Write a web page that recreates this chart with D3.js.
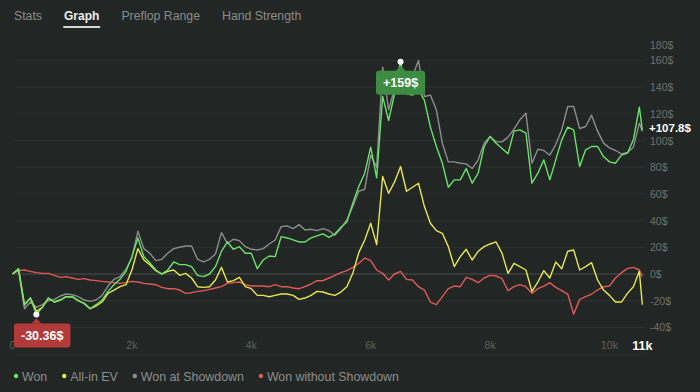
<!DOCTYPE html>
<html>
<head>
<meta charset="utf-8">
<script src="https://cdn.jsdelivr.net/npm/d3@7"></script>
<style>
  html, body { margin: 0; padding: 0; background: #222624; }
  svg { display: block; font-family: "Liberation Sans", Arial, sans-serif; }
</style>
</head>
<body>
<script>
const tabs = ["Stats", "Graph", "Preflop Range", "Hand Strength"];
const activeTab = "Graph";

const hands = [...d3.range(0, 10501, 100), 10550];

const won = [
  0, 4, -23, -18, -30.36, -25, -18, -21, -19.5, -17,
  -17, -20, -22, -26, -23, -19.5, -13, -8, -4, 2,
  13, 27, 13, 8.5, 3, 0, 3, 9, 7, 7,
  5.5, -1, -2, 0, 5.5, 17, 24, 18.5, 20.5, 15.5,
  15.5, 4, 10.5, 13.5, 13, 28, 27, 25.5, 24, 24,
  27, 28.5, 30, 27.5, 30, 35, 39, 53, 65.5, 75.5,
  95, 72, 133, 115, 135, 159, 135, 134, 138, 130,
  110, 95.5, 83, 65, 70.5, 70.5, 79, 68, 75.5, 95.5,
  103, 98, 94, 90, 107, 108, 105.5, 68, 75.5, 85.5,
  70.5, 85.5, 100.5, 110, 108, 80.5, 93, 95.5, 95.5, 88,
  84, 83, 89, 90.5, 100.5, 125, 107.8
];

const allinEV = [
  0, 4, -23, -18, -28, -25, -18, -21, -19.5, -17,
  -17, -20, -22, -26, -24, -21, -14.5, -12, -9.5, -8,
  3, 19, 10.5, 7, 2.5, 0, 2, 3, -1, 0.5,
  -3, -9.5, -10, -9.5, -4.5, 5, -6, -5, -2.5, -9.5,
  -11, -16, -16, -17, -16, -15, -15, -16, -19, -18,
  -16, -13, -13.5, -15, -16, -13.5, -9.5, 0.5, 16, 25.5,
  38, 22, 73, 60.5, 69, 80.5, 62, 65, 68, 50.5,
  38, 32.5, 30.5, 20.5, 5.5, 13, 18.5, 10.5, 17, 20.5,
  22.5, 24, 15.5, 0.5, 8, 5.5, 3, -13, -6, 2.5,
  -3, 9, 4, 17, 18, 3, 5.5, 8.5, -4.5, -12,
  -16, -21, -21, -14.5, -9.5, 2, -23
];

const wonShowdown = [
  0, 3, -26, -21, -25, -23, -20, -19, -16.5, -15,
  -15.5, -17, -19.5, -20.5, -19.5, -16, -9, -4, -2, 3.5,
  12, 32, 19, 15.5, 10, 11, 15.5, 19, 20, 21,
  21, 11, 9, 11, 15, 31, 23, 26, 25, 20.5,
  18.5, 18, 19, 22.5, 25.5, 35.5, 36, 34, 37, 33,
  33.5, 32.5, 34, 32.5, 29, 34, 40.5, 50.5, 62, 63.5,
  89, 80, 155, 123, 139, 143, 141, 148, 160, 133,
  134, 123, 98, 84, 84, 83, 82.5, 79, 85.5, 98,
  103, 99, 99, 102.5, 108.5, 115.5, 120.5, 83, 93.5, 92.5,
  89, 97, 108, 125.5, 125.5, 109, 110.5, 119, 107, 98,
  94.5, 92.5, 90, 91, 95, 113, 107
];

const wonNoShowdown = [
  0, 2.5, 3, 2, 1, 0.5, 0.5, -1, -2.5, -2,
  -3, -4, -3.5, -4.5, -5, -5.5, -6, -6.5, -7, -6.5,
  -5.5, -6, -7, -7.5, -8, -10, -11, -11, -12, -14.5,
  -14, -13, -12.5, -11.5, -10.5, -9.5, -7, -6.5, -6, -8,
  -9, -9, -9, -9.5, -8, -9.5, -9.5, -10.5, -11, -9.5,
  -7.5, -5, -5, -3, -1, 1, 2.5, 5, 8, 12,
  10, 3, 0.5, -4.5, 0, 2, -4, -4.5, -9.5, -12,
  -21, -23, -17, -11, -9, -9.5, -2.5, -4, -6.5, -3,
  -1, -1.5, -3.5, -12.5, -9.5, -8, -9.5, -14.5, -11, -9,
  -6.5, -10, -12.5, -15, -30, -19, -17, -15, -12, -9.5,
  -9, -3, 1, 4, 5, 3, -2
];

const yTicks = [-40, -20, 0, 20, 40, 60, 80, 100, 120, 140, 160, 180];
const xTicks = [0, 2000, 4000, 6000, 8000, 10000];
const endLabel = "11k";

const series = [
  { name: "Won without Showdown", values: wonNoShowdown, color: "#e05a57" },
  { name: "Won at Showdown", values: wonShowdown, color: "#8d8d8d" },
  { name: "All-in EV", values: allinEV, color: "#e6e84e" },
  { name: "Won", values: won, color: "#69e36a" },
];
const legendOrder = ["Won", "All-in EV", "Won at Showdown", "Won without Showdown"];

const W = 700, H = 392;
const plotTop = 40, plotLeft = 15, plotRight = 645;

const svg = d3.select("body").append("svg").attr("width", W).attr("height", H);
svg.append("rect").attr("width", W).attr("height", H).attr("fill", "#222624");

// tabs
let tx = 14;
tabs.forEach((t) => {
  const on = t === activeTab;
  const el = svg.append("text")
    .attr("x", tx).attr("y", 20)
    .attr("font-size", on ? 12 : 12.3)
    .attr("font-weight", on ? "bold" : "normal")
    .attr("fill", on ? "#eeeeee" : "#8a8c8b")
    .text(t);
  const w = el.node().getComputedTextLength();
  if (on) {
    svg.append("line")
      .attr("x1", tx).attr("x2", tx + w)
      .attr("y1", 27).attr("y2", 27)
      .attr("stroke", "#d8d8d8").attr("stroke-width", 2)
      .attr("stroke-linecap", "round");
  }
  tx += w + 22;
});

const x = d3.scaleLinear().domain([0, 10000]).range([12.5, 609.5]);
const y = d3.scaleLinear().domain([-40, 160]).range([327.4, 60.4]);

// grid
svg.append("g").selectAll("line")
  .data(yTicks.filter((v) => y(v) >= plotTop))
  .join("line")
  .attr("x1", plotLeft).attr("x2", plotRight)
  .attr("y1", (d) => y(d)).attr("y2", (d) => y(d))
  .attr("stroke", (d) => (d === 0 ? "#4a4e4c" : "#2e3230"))
  .attr("stroke-width", 1);

svg.append("line")
  .attr("x1", plotLeft).attr("x2", plotRight)
  .attr("y1", 355).attr("y2", 355)
  .attr("stroke", "#2c302e");

// y labels
svg.append("g").selectAll("text")
  .data(yTicks)
  .join("text")
  .attr("x", 650)
  .attr("y", (d) => Math.max(y(d), plotTop + 5) + 4)
  .attr("font-size", 10.5)
  .attr("fill", "#6e7270")
  .text((d) => d + "$");

// x labels
svg.append("g").selectAll("text")
  .data(xTicks)
  .join("text")
  .attr("x", (d) => x(d))
  .attr("y", 349)
  .attr("text-anchor", "middle")
  .attr("font-size", 10.5)
  .attr("fill", "#5f6361")
  .text((d) => (d === 0 ? "0" : d / 1000 + "k"));

svg.append("text")
  .attr("x", x(hands[hands.length - 1]))
  .attr("y", 350)
  .attr("text-anchor", "middle")
  .attr("font-size", 12.5)
  .attr("font-weight", "bold")
  .attr("fill", "#ffffff")
  .text(endLabel);

// lines
const line = d3.line()
  .x((d, i) => x(hands[i]))
  .y((d) => y(d));

svg.append("g").selectAll("path")
  .data(series)
  .join("path")
  .attr("d", (s) => line(s.values))
  .attr("fill", "none")
  .attr("stroke", (s) => s.color)
  .attr("stroke-width", 1.4)
  .attr("stroke-linejoin", "round");

// end value label
svg.append("text")
  .attr("x", 649)
  .attr("y", y(won[won.length - 1]) + 2)
  .attr("font-size", 11.5)
  .attr("font-weight", "bold")
  .attr("fill", "#ffffff")
  .text("+" + won[won.length - 1] + "$");

// max / min markers
function marker(i, label, fill) {
  const px = x(hands[i]);
  const py = y(won[i]);
  svg.append("circle").attr("cx", px).attr("cy", py).attr("r", 3).attr("fill", "#ffffff");
  const t = svg.append("text")
    .attr("font-size", 12.5)
    .attr("font-weight", "bold")
    .attr("fill", "#ffffff")
    .text(label);
  const tw = t.node().getComputedTextLength();
  const bw = tw + 14, bh = 24;
  const bx = Math.max(plotLeft - 1, px - bw / 2);
  const by = py + 9;
  svg.insert("path", () => t.node())
    .attr("d", `M${px - 5},${by} L${px},${by - 5} L${px + 5},${by} Z`)
    .attr("fill", fill);
  svg.insert("rect", () => t.node())
    .attr("x", bx).attr("y", by).attr("width", bw).attr("height", bh)
    .attr("rx", 3).attr("fill", fill);
  t.attr("x", bx + bw / 2).attr("y", by + 16.5).attr("text-anchor", "middle");
}

const iMax = d3.maxIndex(won);
const iMin = d3.minIndex(won);
marker(iMax, "+" + won[iMax] + "$", "#3e8c42");
marker(iMin, won[iMin] + "$", "#b23a3b");

// legend
let lx = 16;
legendOrder.forEach((name) => {
  const s = series.find((d) => d.name === name);
  svg.append("circle").attr("cx", lx).attr("cy", 376).attr("r", 2.2).attr("fill", s.color);
  const el = svg.append("text")
    .attr("x", lx + 6).attr("y", 380.5)
    .attr("font-size", 12.4)
    .attr("fill", "#8c8e8d")
    .text(name);
  lx += 6 + el.node().getComputedTextLength() + 17;
});
</script>
</body>
</html>
